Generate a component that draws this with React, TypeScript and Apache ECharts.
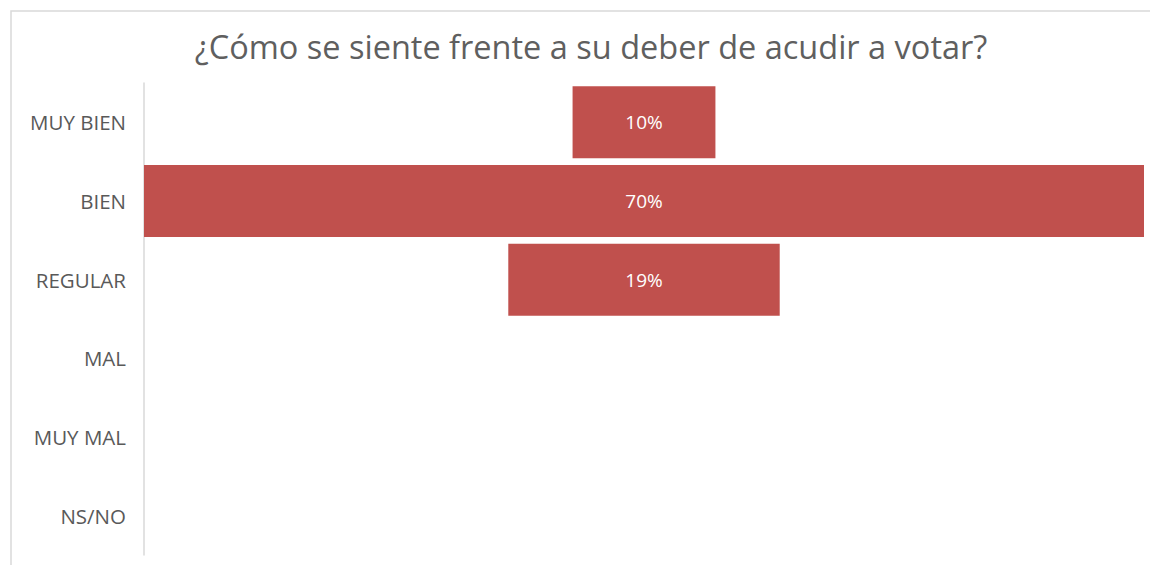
import React, { useEffect, useRef } from "react";
import * as echarts from "echarts";

const categories = ["MUY BIEN", "BIEN", "REGULAR", "MAL", "MUY MAL", "NS/NO"];
const values = [10, 70, 19, 0, 0, 0];
const axisMax = 70;
const titleText = "¿Cómo se siente frente a su deber de acudir a votar?";

export default function App() {
  const ref = useRef<HTMLDivElement>(null);
  useEffect(() => {
    if (!ref.current) return;
    const chart = echarts.init(ref.current, undefined, { renderer: "svg" });
    const offsets = values.map((v) => (axisMax - v) / 2);
    chart.setOption({
      animation: false,
      backgroundColor: "#ffffff",
      title: {
        text: titleText,
        left: 586,
        textAlign: "center",
        top: 25,
        textStyle: {
          fontFamily: "Open Sans",
          fontSize: 32.5,
          fontWeight: "normal",
          color: "#5f5f5f",
        },
      },
      graphic: [
        {
          type: "rect",
          shape: { x: 11, y: 11, width: 1200, height: 600 },
          style: { fill: "none", stroke: "#d9d9d9", lineWidth: 1.5 },
          silent: true,
        },
      ],
      grid: { left: 144, right: 6, top: 83, bottom: 10, containLabel: false },
      xAxis: {
        type: "value",
        min: 0,
        max: axisMax,
        show: false,
      },
      yAxis: {
        type: "category",
        data: categories,
        inverse: true,
        axisLine: { show: true, lineStyle: { color: "#d9d9d9", width: 1.5 } },
        axisTick: { show: false },
        axisLabel: {
          color: "#595959",
          fontFamily: "Open Sans",
          fontSize: 20.5,
          margin: 18,
        },
      },
      series: [
        {
          type: "bar",
          stack: "s",
          data: offsets,
          itemStyle: { color: "transparent" },
          barCategoryGap: "8.5%",
          silent: true,
        },
        {
          type: "bar",
          stack: "s",
          data: values,
          barCategoryGap: "8.5%",
          itemStyle: { color: "#C0504D" },
          label: {
            show: true,
            position: "inside",
            color: "#ffffff",
            fontFamily: "Open Sans",
            fontSize: 19,
            formatter: (p: any) => (p.value > 0 ? p.value + "%" : ""),
          },
        },
      ],
    });
    return () => chart.dispose();
  }, []);
  return (
    <div
      ref={ref}
      style={{ position: "absolute", left: 0, top: 0, width: 1150, height: 565 }}
    />
  );
}
